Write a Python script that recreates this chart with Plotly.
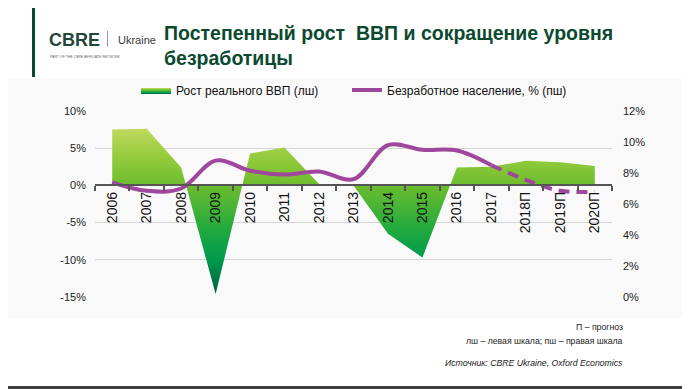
import plotly.graph_objects as go

# ---- data ----
years = ["2006", "2007", "2008", "2009", "2010", "2011", "2012", "2013",
         "2014", "2015", "2016", "2017", "2018П", "2019П", "2020П"]
gdp_growth = [7.5, 7.6, 2.4, -14.6, 4.3, 5.1, 0.2, 0.0,
              -6.5, -9.7, 2.4, 2.5, 3.3, 3.1, 2.6]
unemployment = [7.4, 6.85, 7.0, 8.8, 8.15, 7.9, 8.1, 7.6,
                9.8, 9.5, 9.45, 8.5, 7.55, 6.85, 6.8]
split_idx = 11  # actual data up to 2017, forecast afterwards

left_ticks = [-15, -10, -5, 0, 5, 10]
left_ticktext = ["-15%", "-10%", "-5%", "0%", "5%", "10%"]
right_ticks = [0, 2, 4, 6, 8, 10, 12]
right_ticktext = ["0%", "2%", "4%", "6%", "8%", "10%", "12%"]

title_text = "Постепенный рост  ВВП и сокращение уровня<br>безработицы"
gdp_name = "Рост реального ВВП (лш)"
unemp_name = "Безработное население, % (пш)"
note1 = "П – прогноз"
note2 = "лш – левая шкала; пш – правая шкала"
note3 = "<i>Источник: CBRE Ukraine, Oxford Economics</i>"

# ---- layout geometry (page pixels; page body has an 8px margin) ----
OFF = 8
W, H = 690 - OFF, 389 - OFF
PLOT_X0, PLOT_X1, PLOT_Y0, PLOT_Y1 = 95, 612, 111, 297  # in page pixels
L, T = PLOT_X0 - OFF, PLOT_Y0 - OFF
R, B = W - (PLOT_X1 - OFF), H - (PLOT_Y1 - OFF)
PW, PH = PLOT_X1 - PLOT_X0, PLOT_Y1 - PLOT_Y0


def px(x):
    return (x - PLOT_X0) / PW


def py(y):
    return (PLOT_Y1 - y) / PH


FONT = "Liberation Sans, Arial, sans-serif"
PURPLE = "#9e479c"
DKGREEN = "#0b4a2f"

fig = go.Figure()

fig.add_trace(go.Scatter(
    x=years, y=gdp_growth, name=gdp_name, mode="lines",
    line=dict(width=0, color="#6cbd2e"),
    fill="tozeroy",
    fillgradient=dict(
        type="vertical", start=-15, stop=8,
        colorscale=[[0.0, "#005a3c"], [0.22, "#009a4e"], [0.4, "#22aa3e"],
                    [0.652, "#6cbd2e"], [0.83, "#98cc3e"], [1.0, "#c4db62"]],
    ),
    hoverinfo="x+y", legend="legend",
))

fig.add_trace(go.Scatter(
    x=years[:split_idx + 1], y=unemployment[:split_idx + 1], name=unemp_name,
    mode="lines", yaxis="y2", legend="legend2",
    line=dict(color=PURPLE, width=4, shape="spline", smoothing=1.0),
))
fig.add_trace(go.Scatter(
    x=years[split_idx:], y=unemployment[split_idx:], name=unemp_name,
    mode="lines", yaxis="y2", showlegend=False, legend="legend2",
    line=dict(color=PURPLE, width=4, shape="spline", smoothing=1.0,
              dash="11px,7px"),
))

shapes = [
    dict(type="rect", xref="paper", yref="paper", x0=px(0), x1=px(700),
         y0=py(318), y1=py(78), fillcolor="#f9f9f9", line_width=0, layer="below"),
    dict(type="rect", xref="paper", yref="paper", x0=px(0), x1=px(700),
         y0=py(395), y1=py(386), fillcolor="#3d3d3d", line_width=0, layer="below"),
    dict(type="rect", xref="paper", yref="paper", x0=px(32), x1=px(35),
         y0=py(77), y1=py(7), fillcolor=DKGREEN, line_width=0, layer="below"),
    dict(type="line", xref="paper", yref="paper", x0=px(107.5), x1=px(107.5),
         y0=py(47), y1=py(31), line=dict(color="#9a9a9a", width=1)),
]

annotations = [
    dict(text="<b>" + title_text + "</b>", x=px(162), y=py(45), xanchor="left",
         yanchor="middle", align="left",
         font=dict(family=FONT, size=19.5, color=DKGREEN)),
    dict(text="<b>CBRE</b>", x=px(47), y=py(40), xanchor="left", yanchor="middle",
         font=dict(family=FONT, size=18, color="#1f4638")),
    dict(text="Ukraine", x=px(116), y=py(40), xanchor="left", yanchor="middle",
         font=dict(family=FONT, size=11, color="#3a3a3a")),
    dict(text="PART OF THE CBRE AFFILIATE NETWORK", x=px(48), y=py(57),
         xanchor="left", yanchor="middle",
         font=dict(family=FONT, size=3.5, color="#666666")),
    dict(text=note1, x=px(625), y=py(327), xanchor="right", yanchor="middle",
         font=dict(family=FONT, size=8.7, color="#222222")),
    dict(text=note2, x=px(625), y=py(341), xanchor="right", yanchor="middle",
         font=dict(family=FONT, size=8.7, color="#222222")),
    dict(text=note3, x=px(625), y=py(363), xanchor="right", yanchor="middle",
         font=dict(family=FONT, size=8.7, color="#222222")),
]
for a in annotations:
    a.update(xref="paper", yref="paper", showarrow=False)

fig.update_layout(
    width=W, height=H,
    margin=dict(l=L, r=R, t=T, b=B, pad=0),
    paper_bgcolor="white", plot_bgcolor="rgba(0,0,0,0)",
    font=dict(family=FONT, color="#222222"),
    showlegend=True,
    xaxis=dict(type="category", range=[-0.5, 14.5], anchor="free",
               position=15 / 25, showline=True, linecolor="#555555", linewidth=2,
               ticks="outside", tickson="boundaries", ticklen=5, tickwidth=1.5,
               tickcolor="#555555", tickangle=-90, showgrid=False,
               tickfont=dict(family=FONT, size=14, color="#111111")),
    yaxis=dict(range=[-15, 10], tickvals=left_ticks, ticktext=left_ticktext,
               showgrid=True, gridcolor="#d6d6d6", gridwidth=1, zeroline=False,
               showline=False, ticks="", ticklabelstandoff=8,
               tickfont=dict(family=FONT, size=11, color="#222222")),
    yaxis2=dict(range=[0, 12], tickvals=right_ticks, ticktext=right_ticktext,
                overlaying="y", side="right", showgrid=False, zeroline=False,
                showline=False, ticks="", ticklabelstandoff=10,
                tickfont=dict(family=FONT, size=11, color="#222222")),
    shapes=shapes,
    annotations=annotations,
)

fig.update_layout(
    legend=dict(orientation="h", xref="paper", yref="paper",
                x=px(136), xanchor="left", y=py(90), yanchor="middle",
                font=dict(family=FONT, size=12, color="#111111"),
                bgcolor="rgba(0,0,0,0)", itemwidth=30),
    legend2=dict(orientation="h", xref="paper", yref="paper",
                 x=px(347), xanchor="left", y=py(90), yanchor="middle",
                 font=dict(family=FONT, size=12, color="#111111"),
                 bgcolor="rgba(0,0,0,0)", itemwidth=30),
)

fig.write_html("out.html")
